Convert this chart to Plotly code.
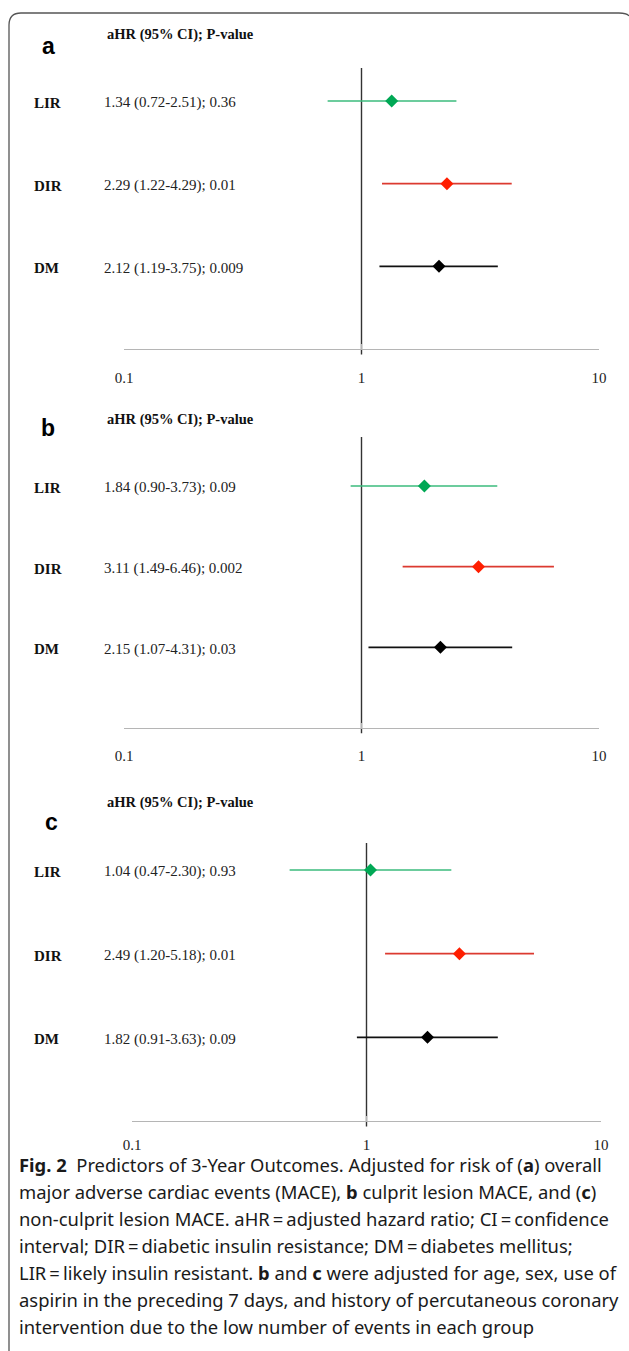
import plotly.graph_objects as go

# ---------------- data ----------------
categories = ["LIR", "DIR", "DM"]
panel_letters = ["a", "b", "c"]

hr_a = [1.34, 2.29, 2.12]
lo_a = [0.72, 1.22, 1.19]
hi_a = [2.51, 4.29, 3.75]
p_a = ["0.36", "0.01", "0.009"]

hr_b = [1.84, 3.11, 2.15]
lo_b = [0.90, 1.49, 1.07]
hi_b = [3.73, 6.46, 4.31]
p_b = ["0.09", "0.002", "0.03"]

hr_c = [1.04, 2.49, 1.82]
lo_c = [0.47, 1.20, 0.91]
hi_c = [2.30, 5.18, 3.63]
p_c = ["0.93", "0.01", "0.09"]

ref_value = 1
tick_vals = [0.1, 1, 10]
tick_text = ["0.1", "1", "10"]
header_text = "aHR (95% CI); P-value"

caption_lines = [
    "<b>Fig. 2</b>  Predictors of 3-Year Outcomes. Adjusted for risk of (<b>a</b>) overall",
    "major adverse cardiac events (MACE), <b>b</b> culprit lesion MACE, and (<b>c</b>)",
    "non-culprit lesion MACE. aHR\u2009=\u2009adjusted hazard ratio; CI\u2009=\u2009confidence",
    "interval; DIR\u2009=\u2009diabetic insulin resistance; DM\u2009=\u2009diabetes mellitus;",
    "LIR\u2009=\u2009likely insulin resistant. <b>b</b> and <b>c</b> were adjusted for age, sex, use of",
    "aspirin in the preceding 7 days, and history of percutaneous coronary",
    "intervention due to the low number of events in each group",
]

# ---------------- styling / layout ----------------
W, H = 629, 1351
line_colors = ["#3bbb7d", "#dc3a30", "#111111"]
marker_colors = ["#00a855", "#ff1e00", "#000000"]
SERIF = "Liberation Serif, Times New Roman, serif"
SANS = "Liberation Sans, Arial, sans-serif"

geom = [
    dict(header=34, letter=46, lx=48, rows=[101, 183, 266], axis=349, vtop=68, x0=124, x1=599, stand=15),
    dict(header=419, letter=428, lx=48, rows=[486, 566, 646], axis=728, vtop=437, x0=124, x1=599, stand=14),
    dict(header=803, letter=822, lx=52, rows=[870, 954, 1037], axis=1121, vtop=843, x0=132, x1=601, stand=10),
]

panels = [
    (hr_a, lo_a, hi_a, p_a),
    (hr_b, lo_b, hi_b, p_b),
    (hr_c, lo_c, hi_c, p_c),
]

fig = go.Figure()
annotations = []
layout_axes = {}

n = len(categories)
for k, ((hr, lo, hi, pv), g) in enumerate(zip(panels, geom)):
    sfx = "" if k == 0 else str(k + 1)
    xa, ya = "x" + sfx, "y" + sfx
    ppu = (g["axis"] - g["rows"][0]) / n
    ybot = -0.08
    vt = (g["axis"] - g["vtop"]) / ppu
    ytop = vt + 0.02
    row_y = [n - i for i in range(n)]

    # reference line
    fig.add_trace(go.Scatter(x=[ref_value, ref_value], y=[-0.065, vt], mode="lines",
                             line=dict(color="#333333", width=1.4),
                             xaxis=xa, yaxis=ya, showlegend=False, hoverinfo="skip"))
    for i in range(n):
        fig.add_trace(go.Scatter(x=[lo[i], hi[i]], y=[row_y[i], row_y[i]], mode="lines",
                                 line=dict(color=line_colors[i], width=1.6),
                                 xaxis=xa, yaxis=ya, showlegend=False))
        fig.add_trace(go.Scatter(x=[hr[i]], y=[row_y[i]], mode="markers",
                                 marker=dict(symbol="diamond", size=10, color=marker_colors[i]),
                                 xaxis=xa, yaxis=ya, showlegend=False))
        annotations.append(dict(xref="paper", yref=ya, x=32 / W, y=row_y[i], yshift=-2,
                                text="<b>%s</b>" % categories[i], showarrow=False,
                                xanchor="left", yanchor="middle",
                                font=dict(family=SERIF, size=15, color="#111111")))
        annotations.append(dict(xref="paper", yref=ya, x=102 / W, y=row_y[i], yshift=-2,
                                text="%.2f (%.2f-%.2f); %s" % (hr[i], lo[i], hi[i], pv[i]),
                                showarrow=False, xanchor="left", yanchor="middle",
                                font=dict(family=SERIF, size=15, color="#222222")))

    annotations.append(dict(xref="paper", yref="paper", x=105 / W, y=1 - g["header"] / H,
                            text="<b>%s</b>" % header_text, showarrow=False,
                            xanchor="left", yanchor="middle",
                            font=dict(family=SERIF, size=14.5, color="#111111")))
    annotations.append(dict(xref="paper", yref="paper", x=g["lx"] / W, y=1 - g["letter"] / H,
                            text="<b>%s</b>" % panel_letters[k], showarrow=False,
                            xanchor="center", yanchor="middle",
                            font=dict(family=SANS, size=23, color="#000000")))

    layout_axes["xaxis" + sfx] = dict(
        type="log", range=[-1, 1], domain=[g["x0"] / W, g["x1"] / W],
        anchor="free", position=1 - g["axis"] / H, automargin=False,
        showline=True, linecolor="#b5b5b5", linewidth=1.2,
        ticks="inside", ticklen=5, tickcolor="#b5b5b5", tickwidth=1.2,
        tickvals=tick_vals, ticktext=tick_text, ticklabelstandoff=g["stand"],
        tickfont=dict(family=SERIF, size=15, color="#222222"),
        showgrid=False, zeroline=False, fixedrange=True,
    )
    layout_axes["yaxis" + sfx] = dict(
        range=[ybot, ytop], visible=False, showgrid=False, zeroline=False,
        anchor=xa, fixedrange=True, automargin=False,
        domain=[1 - (g["axis"] - ybot * ppu) / H, 1 - (g["axis"] - ytop * ppu) / H],
    )

# caption
for i, t in enumerate(caption_lines):
    annotations.append(dict(xref="paper", yref="paper", x=17 / W, y=1 - (1164 + i * 27.1) / H,
                            text=t, showarrow=False, xanchor="left", yanchor="middle",
                            font=dict(family="Noto Sans, Open Sans, sans-serif", size=18.4,
                                      color="#1a1a1a")))

# rounded border (open at bottom and right)
def px(x, y):
    return "%.5f,%.5f" % (x / W, 1 - y / H)

border = "M %s L %s Q %s %s L %s Q %s %s" % (
    px(9, H), px(9, 25), px(9, 13), px(21, 13), px(619, 13), px(627, 13), px(629, 16))

fig.update_layout(
    width=W, height=H, margin=dict(l=0, r=0, t=0, b=0, autoexpand=False),
    paper_bgcolor="white", plot_bgcolor="white", showlegend=False,
    annotations=annotations,
    shapes=[dict(type="path", xref="paper", yref="paper", path=border,
                 line=dict(color="#555555", width=1.3))],
    **layout_axes,
)

fig.write_html("out.html", config={"displayModeBar": False},
               post_script="document.body.style.margin='0';document.body.style.overflow='hidden';")
